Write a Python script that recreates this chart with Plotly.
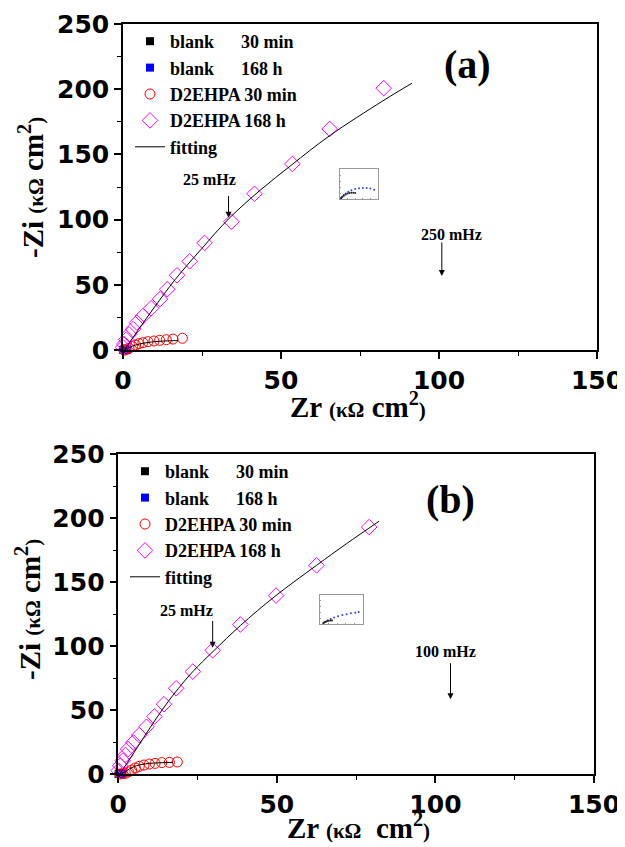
import plotly.graph_objects as go

# ---------------- data (kOhm cm^2) ----------------
# panel (a)
a_blank30_x = [0.1, 0.3, 0.5, 0.7, 0.9]
a_blank30_y = [0.05, 0.15, 0.2, 0.2, 0.1]
a_blank168_x = [0.2, 0.4, 0.6, 0.9, 1.2]
a_blank168_y = [0.05, 0.2, 0.3, 0.3, 0.2]
a_d30_x = [0.3, 1.0, 1.9, 3.0, 4.0, 5.1, 6.3, 7.9, 9.8, 11.6, 13.7, 15.8, 18.8]
a_d30_y = [0.0, 0.3, 1.3, 2.6, 3.8, 4.9, 5.6, 6.4, 6.9, 7.4, 7.9, 8.4, 9.0]
a_d168_x = [-0.4, 0.0, 0.4, 1.0, 1.9, 3.2, 4.4, 6.3, 8.9, 11.7, 14.0, 17.1, 21.1, 25.8, 34.3, 41.6, 53.6, 65.4, 82.5]
a_d168_y = [0.5, 2.0, 4.5, 8.0, 12.0, 16.0, 21.0, 26.0, 32.0, 39.0, 46.6, 57.3, 68.0, 82.1, 98.4, 119.8, 142.7, 169.5, 200.8]
a_fit1_x = [0.5, 5.0, 10.0, 16.5, 25.0, 33.6, 43.4, 53.4, 65.2, 82.2, 91.4]
a_fit1_y = [0.0, 16.0, 33.0, 54.0, 78.0, 101.0, 122.5, 142.0, 164.0, 191.0, 204.5]
a_fit2_x = [0.5, 1.5, 3.0, 4.5, 6.0, 8.0, 10.0, 13.0, 17.4]
a_fit2_y = [0.0, 1.2, 3.0, 4.2, 5.0, 5.8, 6.4, 6.9, 7.2]
a_ins_x = [0.03, 0.06, 0.1, 0.15, 0.22, 0.3, 0.4, 0.5, 0.6, 0.7, 0.8, 0.9]
a_ins_y = [0.03, 0.08, 0.13, 0.18, 0.24, 0.29, 0.33, 0.36, 0.37, 0.37, 0.35, 0.31]
a_ins_bx = [0.03, 0.06, 0.1, 0.15, 0.2, 0.25, 0.3, 0.35, 0.4]
a_ins_by = [0.03, 0.07, 0.11, 0.15, 0.18, 0.2, 0.21, 0.21, 0.2]

# panel (b)
b_blank30_x = [0.1, 0.3, 0.5, 0.7, 0.9]
b_blank30_y = [0.05, 0.15, 0.2, 0.2, 0.1]
b_blank168_x = [0.2, 0.4, 0.6, 0.9, 1.2]
b_blank168_y = [0.05, 0.2, 0.3, 0.3, 0.2]
b_d30_x = [0.5, 1.2, 2.2, 3.2, 4.2, 5.4, 6.6, 8.1, 9.8, 11.6, 13.7, 16.1, 18.6]
b_d30_y = [0.0, 0.2, 0.5, 1.6, 3.1, 4.7, 6.0, 7.0, 7.8, 8.3, 8.9, 9.1, 9.4]
b_d168_x = [-0.4, 0.1, 0.6, 1.4, 2.25, 3.1, 4.75, 6.6, 8.9, 11.4, 14.4, 18.25, 23.5, 29.75, 38.5, 49.75, 62.5, 79.1]
b_d168_y = [0.5, 2.6, 6.5, 10.4, 14.8, 19.5, 24.7, 30.4, 36.9, 44.9, 54.5, 67.0, 80.0, 96.6, 116.8, 139.4, 163.0, 192.9]
b_fit1_x = [0.5, 4.5, 8.0, 12.0, 15.7, 19.0, 23.5, 30.0, 38.5, 49.5, 62.5, 72.0, 82.25]
b_fit1_y = [0.0, 15.0, 28.5, 43.5, 56.5, 67.0, 80.0, 96.0, 116.0, 139.0, 163.0, 180.0, 197.5]
b_fit2_x = [0.8, 2.0, 3.5, 5.0, 6.5, 8.5, 11.0, 14.0, 17.3]
b_fit2_y = [0.0, 1.5, 4.0, 5.8, 7.0, 7.9, 8.5, 8.9, 9.1]
b_ins_x = [0.08, 0.12, 0.18, 0.25, 0.33, 0.42, 0.52, 0.62, 0.72, 0.82, 0.9]
b_ins_y = [0.04, 0.08, 0.12, 0.17, 0.22, 0.27, 0.31, 0.34, 0.37, 0.39, 0.41]
b_ins_bx = [0.08, 0.11, 0.14, 0.17, 0.2, 0.24, 0.28]
b_ins_by = [0.03, 0.06, 0.08, 0.1, 0.11, 0.12, 0.12]

x_ticks = [0, 50, 100, 150]
y_ticks = [0, 50, 100, 150, 200, 250]

# ---------------- figure ----------------
fig = go.Figure()
OFF = 8                      # page body margin
W, H = 625 - OFF, 847 - OFF  # figure size so it fits the window

def px_x(p):
    return (p - OFF) / W

def px_y(p):
    return 1 - (p - OFF) / H

SP = "\u00a0"

def add_panel(sfx, legend_name, blank30, blank168, d30, d168, fit1, fit2):
    xa = "x" + sfx
    ya = "y" + sfx
    common = dict(xaxis=xa, yaxis=ya, legend=legend_name, cliponaxis=False)
    fig.add_trace(go.Scatter(x=blank30[0], y=blank30[1], mode="markers",
                             name="blank" + SP * 6 + "30 min",
                             marker=dict(symbol="square", size=8, color="black"), **common))
    fig.add_trace(go.Scatter(x=blank168[0], y=blank168[1], mode="markers",
                             name="blank" + SP * 6 + "168 h",
                             marker=dict(symbol="square", size=8, color="blue"), **common))
    fig.add_trace(go.Scatter(x=d30[0], y=d30[1], mode="markers", name="D2EHPA 30 min",
                             marker=dict(symbol="circle-open", size=10, color="red",
                                         line=dict(width=1)), **common))
    fig.add_trace(go.Scatter(x=d168[0], y=d168[1], mode="markers", name="D2EHPA 168 h",
                             marker=dict(symbol="diamond-open", size=12, color="#FF00FF",
                                         line=dict(width=1)), **common))
    fig.add_trace(go.Scatter(x=fit1[0], y=fit1[1], mode="lines", name="fitting",
                             line=dict(color="black", width=1, shape="spline"), **common))
    fig.add_trace(go.Scatter(x=fit2[0], y=fit2[1], mode="lines", name="fitting",
                             showlegend=False,
                             line=dict(color="black", width=1, shape="spline"), **common))

add_panel("", "legend",
          (a_blank30_x, a_blank30_y), (a_blank168_x, a_blank168_y),
          (a_d30_x, a_d30_y), (a_d168_x, a_d168_y),
          (a_fit1_x, a_fit1_y), (a_fit2_x, a_fit2_y))
add_panel("2", "legend2",
          (b_blank30_x, b_blank30_y), (b_blank168_x, b_blank168_y),
          (b_d30_x, b_d30_y), (b_d168_x, b_d168_y),
          (b_fit1_x, b_fit1_y), (b_fit2_x, b_fit2_y))

# insets
for sfx, ix, iy, bx, by in [("3", a_ins_x, a_ins_y, a_ins_bx, a_ins_by),
                            ("4", b_ins_x, b_ins_y, b_ins_bx, b_ins_by)]:
    fig.add_trace(go.Scatter(x=ix, y=iy, mode="markers", showlegend=False,
                             xaxis="x" + sfx, yaxis="y" + sfx,
                             marker=dict(size=2, color="#3344dd")))
    fig.add_trace(go.Scatter(x=bx, y=by, mode="markers", showlegend=False,
                             xaxis="x" + sfx, yaxis="y" + sfx,
                             marker=dict(size=2, color="#222222")))

tickfont = dict(family="DejaVu Sans", size=25, color="black", weight="bold")

def axis_style(domain, anchor, rng, ticks):
    return dict(domain=domain, anchor=anchor, range=rng, tickvals=ticks,
                showline=True, linecolor="black", linewidth=1.5, mirror=True,
                ticks="outside", ticklen=7, tickwidth=1.5, tickcolor="black",
                minor=dict(ticks="outside", ticklen=4, tickwidth=1.2, dtick=25,
                           tickcolor="black"),
                showgrid=False, zeroline=False, tickfont=tickfont, automargin=False)

fig.update_layout(
    xaxis=axis_style([px_x(123), px_x(597)], "y", [0, 150], x_ticks),
    yaxis=axis_style([px_y(350), px_y(24)], "x", [0, 250], y_ticks),
    xaxis2=axis_style([px_x(118.3), px_x(594)], "y2", [0, 150], x_ticks),
    yaxis2=axis_style([px_y(774), px_y(454)], "x2", [0, 250], y_ticks),
)

inset_ax = dict(showline=True, linecolor="#999999", linewidth=0.6, mirror=True,
                showgrid=False, zeroline=False, showticklabels=False,
                ticks="inside", ticklen=1.5, tickwidth=0.5, tickcolor="#999999",
                range=[0, 1], dtick=0.2, automargin=False)
fig.update_layout(
    xaxis3=dict(domain=[px_x(340), px_x(378)], anchor="y3", **inset_ax),
    yaxis3=dict(domain=[px_y(199), px_y(169)], anchor="x3", **inset_ax),
    xaxis4=dict(domain=[px_x(320), px_x(363)], anchor="y4", **inset_ax),
    yaxis4=dict(domain=[px_y(624), px_y(595)], anchor="x4", **inset_ax),
)

legend_font = dict(family="Liberation Serif", size=18, color="black", weight="bold")
fig.update_layout(
    legend=dict(x=px_x(130), y=px_y(23), xanchor="left", yanchor="top",
                bgcolor="rgba(0,0,0,0)", font=legend_font, itemwidth=30,
                tracegroupgap=0),
    legend2=dict(x=px_x(125), y=px_y(453), xanchor="left", yanchor="top",
                 bgcolor="rgba(0,0,0,0)", font=legend_font, itemwidth=30,
                 tracegroupgap=0),
)

serif = "Liberation Serif"

def title_text(main, unit_gap):
    return ("<b>" + main + " <span style='font-size:21px'>(κΩ</span>" + unit_gap +
            "cm<sup>2</sup><span style='font-size:21px'>)</span></b>")

title_font = dict(family=serif, size=29, color="black")
annos = []
# axis titles
annos.append(dict(xref="paper", yref="paper", x=px_x(358), y=px_y(405),
                  xanchor="center", yanchor="middle",
                  text=title_text("Zr", " "), showarrow=False, font=title_font))
annos.append(dict(xref="paper", yref="paper", x=px_x(358), y=px_y(826),
                  xanchor="center", yanchor="middle",
                  text=title_text("Zr", SP + " "), showarrow=False, font=title_font))
annos.append(dict(xref="paper", yref="paper", x=px_x(31), y=px_y(188),
                  xanchor="center", yanchor="middle",
                  text=title_text("-Zi", " "), showarrow=False, textangle=-90, font=title_font))
annos.append(dict(xref="paper", yref="paper", x=px_x(28), y=px_y(610),
                  xanchor="center", yanchor="middle",
                  text=title_text("-Zi", " "), showarrow=False, textangle=-90, font=title_font))
# panel labels
annos.append(dict(xref="x", yref="y", x=108.9, y=218.7, text="<b>(a)</b>", showarrow=False,
                  xanchor="center", yanchor="middle",
                  font=dict(family=serif, size=40, color="black")))
annos.append(dict(xref="x2", yref="y2", x=104.75, y=214.2, text="<b>(b)</b>", showarrow=False,
                  xanchor="center", yanchor="middle",
                  font=dict(family=serif, size=40, color="black")))
# frequency labels and arrows
small = dict(family=serif, size=16, color="black")
for xr, yr, tx, ty, txt, axx, ay0, ay1 in [
        ("x", "y", 27.3, 130.7, "25 mHz", 33.4, 119.3, 101.4),
        ("x", "y", 104.0, 88.7, "250 mHz", 100.9, 83.6, 56.8),
        ("x2", "y2", 21.6, 127.7, "25 mHz", 29.75, 120.7, 98.6),
        ("x2", "y2", 103.1, 96.0, "100 mHz", 104.75, 87.7, 58.4)]:
    annos.append(dict(xref=xr, yref=yr, x=tx, y=ty, text="<b>" + txt + "</b>",
                      xanchor="center", yanchor="middle",
                      showarrow=False, font=small))
    annos.append(dict(xref=xr, yref=yr, x=axx, y=ay1, ax=axx, ay=ay0,
                      axref=xr, ayref=yr, text="", showarrow=True,
                      arrowhead=2, arrowsize=1.2, arrowwidth=1, arrowcolor="black"))

fig.update_layout(annotations=annos, width=W, height=H,
                  margin=dict(l=0, r=0, t=0, b=0, pad=0, autoexpand=False),
                  paper_bgcolor="white", plot_bgcolor="white")

fig.write_html("out.html")
